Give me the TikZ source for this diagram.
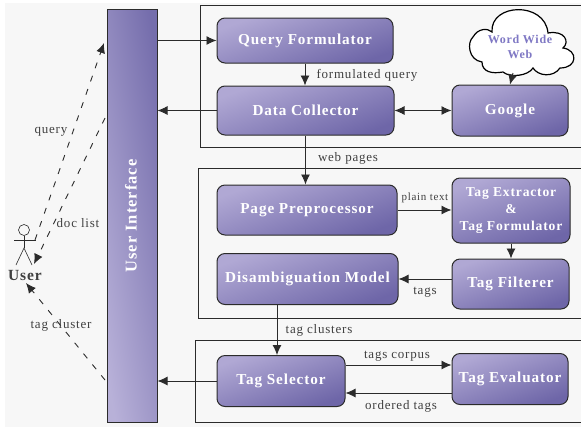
\documentclass[tikz,border=0pt]{standalone}
\usepackage{fontspec}
\setmainfont{Liberation Serif}[LetterSpace=6]
\usetikzlibrary{arrows.meta, calc}
\definecolor{pagebg}{HTML}{F7F7F7}
\definecolor{lineclr}{HTML}{2B2B2B}
\definecolor{boxlight}{HTML}{B0A8D4}
\definecolor{boxdark}{HTML}{6E66A8}
\definecolor{webtext}{HTML}{7F78C4}
\tikzset{
  module/.style={draw=lineclr, line width=1pt, rounded corners=8pt, align=center, text=white, inner sep=0pt,
    font=\bfseries\fontsize{15.2}{17}\selectfont, top color=boxlight, bottom color=boxdark, shading angle=20},
  group/.style={draw=lineclr, line width=0.9pt},
  flow/.style={->, line width=0.9pt, lineclr},
  backflow/.style={->, dash pattern=on 6pt off 8pt, line width=0.9pt, lineclr},
  lbl/.style={text=black!75, font=\fontsize{13}{15}\selectfont, inner sep=0pt}
}
\begin{document}
\begin{tikzpicture}[>={Latex[length=10pt,width=9pt]}, x=1pt, y=-1pt]
  \useasboundingbox (0,0) rectangle (581,429);
  \fill[pagebg] (5,3) rectangle (581,427);
  % groups
  \draw[group] (581,5) -- (200,5) -- (200,147) -- (581,147);
  \draw[group] (581,168) -- (198,168) -- (198,318) -- (581,318);
  \draw[group] (581,340) -- (195,340) -- (195,422) -- (581,422);
  % user interface
  \node[draw=lineclr, line width=1pt, minimum width=50pt, minimum height=413pt, inner sep=0pt,
    top color=boxlight!90!white, bottom color=boxdark!95!white, shading angle=100] (ui) at (132,215.5) {};
  \node[rotate=90, text=white, font=\bfseries\fontsize{16.5}{18}\selectfont] (uilabel) at (131,216) {User Interface};
  % modules
  \node[module, minimum width=176pt, minimum height=45pt] (qf) at (305,40.5) {Query Formulator};
  \node[module, minimum width=177pt, minimum height=49pt] (dc) at (305.5,110.5) {Data Collector};
  \node[module, minimum width=116pt, minimum height=51pt] (google) at (510,110.5) {Google};
  \node[module, minimum width=180pt, minimum height=50pt] (pp) at (307,210) {Page Preprocessor};
  \node[module, minimum width=118pt, minimum height=65pt,
    font=\bfseries\fontsize{13.6}{17}\selectfont] (te) at (511,210.5) {Tag Extractor\\\&\\Tag Formulator};
  \node[module, minimum width=181pt, minimum height=51pt] (dm) at (307.5,279) {Disambiguation Model};
  \node[module, minimum width=117pt, minimum height=50pt] (tf) at (510.5,284) {Tag Filterer};
  \node[module, minimum width=128pt, minimum height=51pt] (ts) at (281,381) {Tag Selector};
  \node[module, minimum width=116pt, minimum height=51pt] (tv) at (510,379) {Tag Evaluator};
  % cloud
  \draw[draw=black, line width=1.2pt, fill=white] (492,32)
    .. controls (490,3) and (545,1) .. (548,33)
    .. controls (565,30) and (570,42) .. (563,48)
    .. controls (578,50) and (578,68) .. (560,68)
    .. controls (553,78) and (538,76) .. (533,68)
    .. controls (528,76) and (510,78) .. (503,72)
    .. controls (492,74) and (482,72) .. (482,62)
    .. controls (468,60) and (467,42) .. (473,37)
    .. controls (478,28) and (488,28) .. cycle;
  \node[align=center, inner sep=0pt, text=webtext, font=\bfseries\fontsize{12}{15}\selectfont] (www) at (520,47) {Word Wide\\Web};
  \coordinate (wwwout) at (513,73);
  % user
  \coordinate (head) at (24,230);
  \draw[lineclr, line width=0.6pt] (head) circle (5.5pt);
  \draw[lineclr, line width=0.6pt] (24,235.5) -- (24,248) coordinate (hip);
  \draw[lineclr, line width=0.6pt] (14,240) -- (36,240);
  \draw[lineclr, line width=0.6pt] (16,265) -- (hip) -- (32,265);
  \node[lbl, font=\bfseries\fontsize{15.5}{17}\selectfont] (user) at (25,275) {User};
  \coordinate (handout) at (35,240);
  \coordinate (uiquery) at (104,43);
  \coordinate (uidoc) at (105,118);
  \coordinate (userdoc) at (34,264);
  \coordinate (uitag) at (105,380);
  \coordinate (usertag) at (26,283);
  % flows
  \draw[flow] (ui.east |- qf) -- (qf.west);
  \draw[flow] (dc.west) -- (ui.east |- dc);
  \draw[flow] (ts.west) -- (ui.east |- ts);
  \draw[flow] (qf.south) -- (qf.south |- dc.north);
  \draw[flow, <->] (dc.east) -- (dc.east -| google.west);
  \draw[flow] (wwwout) -- (google.north);
  \draw[flow] (dc.south) -- (dc.south |- pp.north);
  \draw[flow] (pp.east) -- (pp.east -| te.west);
  \draw[flow] (te.south) -- (te.south |- tf.north);
  \draw[flow] (tf.west |- dm.east) -- (dm.east);
  \draw[flow] ([xshift=-4pt]ts.north |- dm.south) -- ([xshift=-4pt]ts.north);
  \draw[flow] (ts.east |- 0,365) -- (tv.west |- 0,365);
  \draw[flow] (tv.west |- 0,393) -- (ts.east |- 0,393);
  \draw[backflow] (handout) -- (uiquery);
  \draw[backflow] (uidoc) -- (userdoc);
  \draw[backflow] (uitag) -- (usertag);
  % labels
  \node[lbl] (lquery) at (51,132) {query};
  \node[lbl] (ldoc) at (78,223) {doc list};
  \node[lbl] (lcluster) at (61,325) {tag cluster};
  \node[lbl] (lfq) at (367,75) {formulated query};
  \node[lbl] (lweb) at (348,158) {web pages};
  \node[lbl, font=\fontsize{11}{13}\selectfont] (lplain) at (425,198) {plain text};
  \node[lbl] (ltags) at (425,292) {tags};
  \node[lbl] (lclusters) at (319,330) {tag clusters};
  \node[lbl] (lcorpus) at (397,356) {tags corpus};
  \node[lbl] (lordered) at (401,406) {ordered tags};
\end{tikzpicture}
\end{document}
